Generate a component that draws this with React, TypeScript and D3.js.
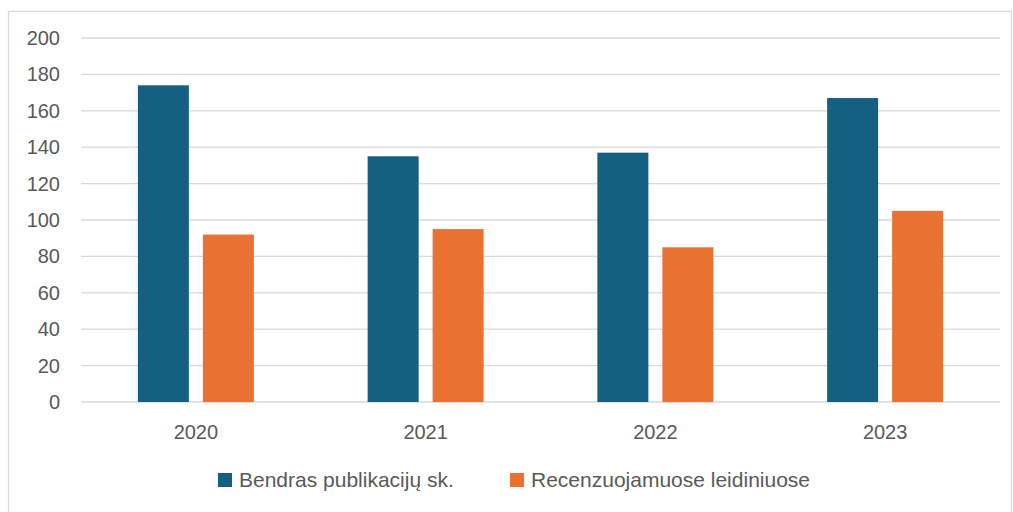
import React, { useEffect, useRef } from 'react';
import * as d3 from 'd3';

const years = ['2020', '2021', '2022', '2023'];
const seriesNames = ['Bendras publikacijų sk.', 'Recenzuojamuose leidiniuose'];
const totalPubs = [174, 135, 137, 167];
const reviewedPubs = [92, 95, 85, 105];
const yTicks = [0, 20, 40, 60, 80, 100, 120, 140, 160, 180, 200];
const colors = ['#156082', '#E97132'];

export default function App() {
  const ref = useRef<SVGSVGElement>(null);

  useEffect(() => {
    const svg = d3.select(ref.current);
    svg.selectAll('*').remove();
    const font = 'Liberation Sans, Arial, sans-serif';

    // chart border
    svg.append('rect')
      .attr('x', 8.5).attr('y', 11.5)
      .attr('width', 1003).attr('height', 510)
      .attr('fill', 'white').attr('stroke', '#d9d9d9').attr('stroke-width', 1.3);

    const x = d3.scaleBand().domain(years).range([81, 1000]);
    const y = d3.scaleLinear().domain([0, 200]).range([402, 38]);

    const grid = svg.append('g');
    grid.selectAll('line')
      .data(yTicks)
      .join('line')
        .attr('x1', 81).attr('x2', 1000)
        .attr('y1', d => y(d)).attr('y2', d => y(d))
        .attr('stroke', '#d9d9d9').attr('stroke-width', 1.3);

    grid.selectAll('text')
      .data(yTicks)
      .join('text')
        .attr('x', 60).attr('y', d => y(d))
        .attr('dy', '0.35em')
        .attr('text-anchor', 'end')
        .attr('font-family', font).attr('font-size', 20)
        .attr('fill', '#595959')
        .text(d => d);

    const series = [totalPubs, reviewedPubs];
    const barW = 51, gap = 14;
    series.forEach((vals, si) => {
      svg.append('g')
        .selectAll('rect')
        .data(vals)
        .join('rect')
          .attr('x', (d, i) => x(years[i])! + x.bandwidth() / 2 - gap / 2 - barW + si * (barW + gap))
          .attr('y', d => y(d))
          .attr('width', barW)
          .attr('height', d => y(0) - y(d))
          .attr('fill', colors[si]);
    });

    svg.append('g')
      .selectAll('text')
      .data(years)
      .join('text')
        .attr('x', d => x(d)! + x.bandwidth() / 2)
        .attr('y', 432)
        .attr('dy', '0.35em')
        .attr('text-anchor', 'middle')
        .attr('font-family', font).attr('font-size', 20)
        .attr('fill', '#595959')
        .text(d => d);

    const legendX = [218, 510];
    const lg = svg.append('g');
    seriesNames.forEach((name, i) => {
      lg.append('rect')
        .attr('x', legendX[i]).attr('y', 473)
        .attr('width', 14).attr('height', 14)
        .attr('fill', colors[i]);
      lg.append('text')
        .attr('x', legendX[i] + 21).attr('y', 480)
        .attr('dy', '0.35em')
        .attr('font-family', font).attr('font-size', 21)
        .attr('fill', '#595959')
        .text(name);
    });
  });

  return (
    <div style={{ position: 'absolute', left: 0, top: 0 }}>
      <svg ref={ref} width={1013} height={512}></svg>
    </div>
  );
}
